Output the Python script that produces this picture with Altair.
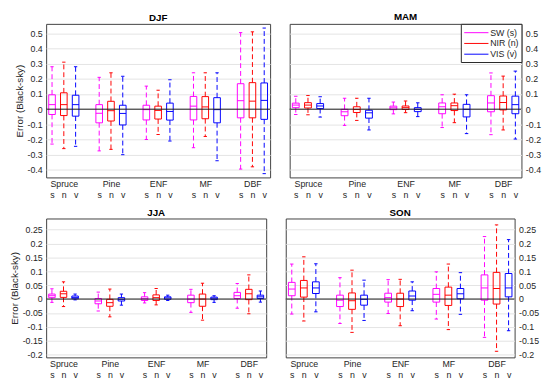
import json
import altair as alt
import pandas as pd

# ---------------- data ----------------
groups = ["Spruce", "Pine", "ENF", "MF", "DBF"]
bands = ["s", "n", "v"]
band_names = ["SW (s)", "NIR (n)", "VIS (v)"]
band_colors = ["#ff00ff", "#ff0000", "#0000ff"]
zero_line = [0.0]

# order of each list: Spruce s,n,v | Pine s,n,v | ENF s,n,v | MF s,n,v | DBF s,n,v
djf_lo = [-0.23, -0.26, -0.245, -0.275, -0.265, -0.30, -0.20, -0.167, -0.21, -0.254, -0.18, -0.34, -0.395, -0.38, -0.425]
djf_q1 = [-0.035, -0.042, -0.046, -0.09, -0.078, -0.104, -0.071, -0.065, -0.072, -0.071, -0.063, -0.09, -0.057, -0.057, -0.067]
djf_med = [0.03, 0.03, 0.03, -0.027, -0.01, -0.028, -0.003, -0.008, -0.015, 0.02, 0.015, -0.003, 0.056, 0.053, 0.058]
djf_q3 = [0.095, 0.108, 0.092, 0.03, 0.052, 0.026, 0.026, 0.02, 0.04, 0.084, 0.083, 0.076, 0.168, 0.175, 0.173]
djf_hi = [0.28, 0.31, 0.28, 0.21, 0.24, 0.217, 0.152, 0.125, 0.194, 0.24, 0.24, 0.24, 0.505, 0.51, 0.535]

mam_lo = [-0.035, -0.037, -0.052, -0.107, -0.074, -0.137, -0.031, -0.023, -0.049, -0.121, -0.089, -0.161, -0.168, -0.137, -0.197]
mam_q1 = [0.01, 0.008, 0.004, -0.043, -0.022, -0.059, -0.003, -0.002, -0.016, -0.03, -0.009, -0.051, -0.017, -0.005, -0.03]
mam_med = [0.027, 0.027, 0.021, -0.017, -0.002, -0.024, 0.009, 0.01, -0.001, 0.016, 0.023, -0.001, 0.041, 0.044, 0.03]
mam_q3 = [0.04, 0.043, 0.037, -0.001, 0.016, -0.007, 0.02, 0.021, 0.01, 0.041, 0.041, 0.032, 0.089, 0.087, 0.086]
mam_hi = [0.085, 0.09, 0.082, 0.072, 0.072, 0.072, 0.047, 0.054, 0.042, 0.095, 0.099, 0.095, 0.239, 0.218, 0.251]

jja_lo = [-0.012, -0.027, -0.003, -0.043, -0.064, -0.022, -0.014, -0.021, -0.005, -0.048, -0.076, -0.012, -0.033, -0.053, -0.011]
jja_q1 = [0.005, 0.006, 0.001, -0.017, -0.026, -0.007, -0.005, -0.005, -0.001, -0.013, -0.026, -0.002, 0.002, -0.002, 0.002]
jja_med = [0.012, 0.019, 0.006, -0.007, -0.013, -0.001, 0.001, 0.005, 0.004, 0.0, 0.0, 0.003, 0.012, 0.019, 0.008]
jja_q3 = [0.018, 0.028, 0.011, 0.002, -0.001, 0.005, 0.008, 0.015, 0.008, 0.014, 0.018, 0.007, 0.024, 0.035, 0.014]
jja_hi = [0.037, 0.062, 0.018, 0.025, 0.036, 0.018, 0.023, 0.038, 0.014, 0.035, 0.057, 0.012, 0.056, 0.087, 0.029]

son_lo = [-0.054, -0.079, -0.046, -0.088, -0.12, -0.077, -0.052, -0.096, -0.042, -0.072, -0.11, -0.055, -0.138, -0.188, -0.114]
son_q1 = [0.012, 0.007, 0.02, -0.027, -0.037, -0.022, -0.011, -0.027, -0.004, -0.011, -0.023, 0.001, -0.004, -0.018, 0.008]
son_med = [0.036, 0.04, 0.04, -0.004, -0.006, -0.001, 0.005, 0.0, 0.011, 0.017, 0.014, 0.019, 0.04, 0.038, 0.04]
son_q3 = [0.06, 0.067, 0.062, 0.014, 0.022, 0.014, 0.021, 0.021, 0.029, 0.038, 0.043, 0.038, 0.087, 0.096, 0.092]
son_hi = [0.126, 0.152, 0.127, 0.077, 0.104, 0.068, 0.07, 0.071, 0.062, 0.098, 0.126, 0.095, 0.225, 0.267, 0.214]

top_ticks = [-0.4, -0.3, -0.2, -0.1, 0, 0.1, 0.2, 0.3, 0.4, 0.5]
bottom_ticks = [-0.2, -0.15, -0.1, -0.05, 0, 0.05, 0.1, 0.15, 0.2, 0.25]
top_domain = [-0.45, 0.5625]
bottom_domain = [-0.21, 0.29]

FONT = "Liberation Sans"

# x positions: groups separated by one empty slot
xvals = [g * 4 + b for g in range(len(groups)) for b in range(len(bands))]
xlabel_expr = (
    f"datum.value % 4 == 1 ? [{json.dumps(groups)}[floor(datum.value / 4)], {json.dumps(bands)}[1]]"
    f" : ['', {json.dumps(bands)}[datum.value % 4]]"
)


def panel(title, lo, q1, med, q3, hi, ydom, yticks, side, width, height, with_legend):
    rows = []
    for g, grp in enumerate(groups):
        for b in range(len(bands)):
            i = g * 3 + b
            rows.append(dict(group=grp, band=band_names[b], pos=g * 4 + b,
                             lo=lo[i], q1=q1[i], med=med[i], q3=q3[i], hi=hi[i]))
    df = pd.DataFrame(rows)

    xs = alt.Scale(domain=[-0.5, 18.5], nice=False, zero=False)
    ys = alt.Scale(domain=ydom, nice=False, zero=False)
    xaxis = alt.Axis(values=xvals, labelExpr=xlabel_expr, title=None, grid=False, ticks=False,
                     domain=False, labelOverlap=False, labelFlush=False, labelBound=False,
                     labelFontSize=9, labelLineHeight=12, labelPadding=2, labelBaseline="top")
    yaxis = alt.Axis(orient=side, values=yticks, labelExpr="'' + datum.value",
                     title=("Error (Black-sky)" if side == "left" else None),
                     grid=True, ticks=False, domain=False, labelFontSize=9, labelPadding=4,
                     titleFontSize=10, titleFontWeight="normal", titlePadding=3)
    if with_legend:
        leg = alt.Legend(orient="top-right", offset=0, title=None, symbolType="M-1,0L3.5,0",
                         symbolSize=121, symbolStrokeWidth=1, labelFontSize=9, labelOffset=15,
                         padding=3, rowPadding=0, strokeColor="#262626", fillColor="white",
                         labelFont=FONT, labelColor="#262626")
    else:
        leg = None
    color = alt.Color("band:N", scale=alt.Scale(domain=band_names, range=band_colors), legend=leg)

    def X(f):
        return alt.X(f"{f}:Q", scale=xs, axis=xaxis)

    def Y(f):
        return alt.Y(f"{f}:Q", scale=ys, axis=yaxis)

    base = alt.Chart(df).transform_calculate(
        xl="datum.pos - 0.28", xr="datum.pos + 0.28",
        cl="datum.pos - 0.14", cr="datum.pos + 0.14")

    box = base.mark_rect(filled=False, strokeWidth=1, fillOpacity=0).encode(
        x=X("xl"), x2="xr", y=Y("q1"), y2="q3", color=color)
    w_hi = base.mark_rule(strokeWidth=1, strokeDash=[5, 3]).encode(
        x=X("pos"), y=Y("q3"), y2="hi", color=color)
    w_lo = base.mark_rule(strokeWidth=1, strokeDash=[5, 3]).encode(
        x=X("pos"), y=Y("q1"), y2="lo", color=color)
    c_hi = base.mark_rule(strokeWidth=1).encode(x=X("cl"), x2="cr", y=Y("hi"), color=color)
    c_lo = base.mark_rule(strokeWidth=1).encode(x=X("cl"), x2="cr", y=Y("lo"), color=color)
    mid = base.mark_rule(strokeWidth=1).encode(x=X("xl"), x2="xr", y=Y("med"), color=color)
    zero = alt.Chart(pd.DataFrame({"ref": zero_line})).mark_rule(
        color="#1a1a1a", strokeWidth=1).encode(y=Y("ref"))

    return alt.layer(box, w_hi, w_lo, c_hi, c_lo, mid, zero).properties(
        title=title, width=width, height=height)


djf = panel("DJF", djf_lo, djf_q1, djf_med, djf_q3, djf_hi, top_domain, top_ticks, "left", 229, 157, False)
mam = panel("MAM", mam_lo, mam_q1, mam_med, mam_q3, mam_hi, top_domain, top_ticks, "right", 237, 157, True)
jja = panel("JJA", jja_lo, jja_q1, jja_med, jja_q3, jja_hi, bottom_domain, bottom_ticks, "left", 225, 142, False)
son = panel("SON", son_lo, son_q1, son_med, son_q3, son_hi, bottom_domain, bottom_ticks, "right", 234, 142, False)

top = alt.hconcat(djf, mam, spacing=18).resolve_scale(color="independent").resolve_legend(color="independent")
bottom = alt.hconcat(jja, son, spacing=18).resolve_scale(color="independent").resolve_legend(color="independent")

chart = (
    alt.vconcat(top, bottom, spacing=6)
    .resolve_scale(color="independent")
    .resolve_legend(color="independent")
    .properties(padding=0)
    .configure_view(stroke="#404040", strokeWidth=1)
    .configure_axis(labelFont=FONT, titleFont=FONT, labelColor="#262626", titleColor="#262626",
                    gridColor="#e3e3e3", gridWidth=1)
    .configure_title(font=FONT, fontSize=10, fontWeight="bold", color="#000000", offset=1)
)

chart.save("out.html", embed_options={"renderer": "svg", "actions": False})
